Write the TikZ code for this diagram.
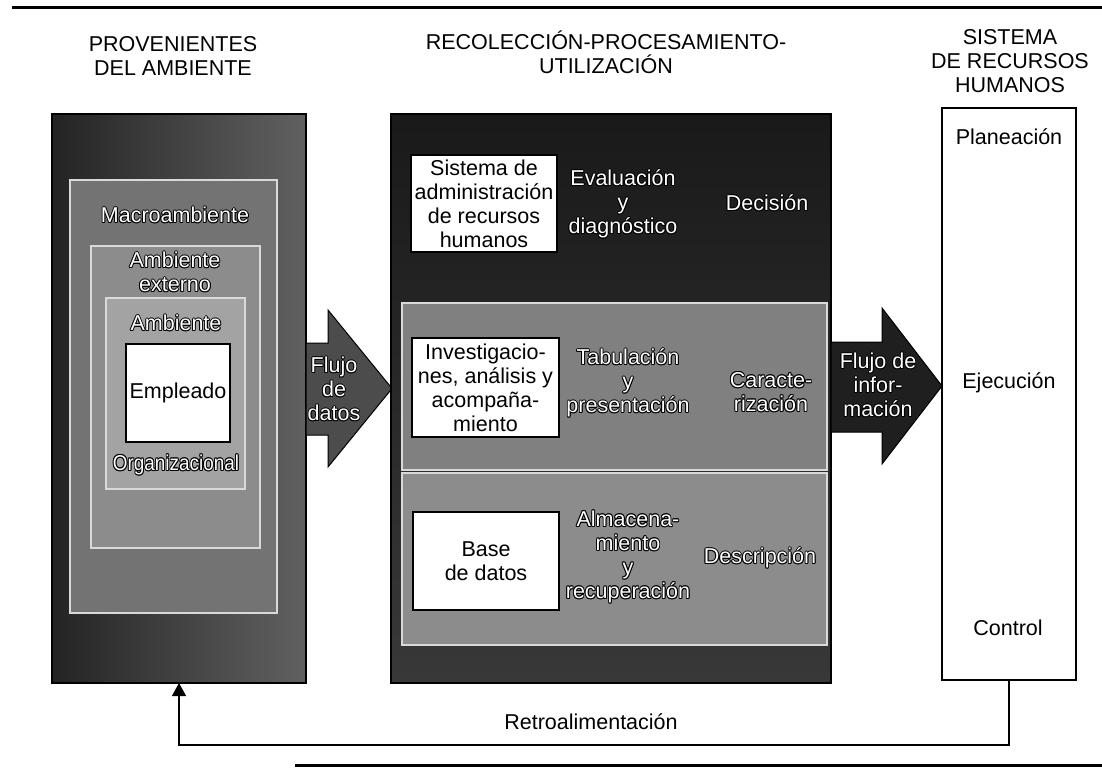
\documentclass[tikz,border=0pt]{standalone}
\usepackage{fontspec}
\usepackage{graphicx}
\setmainfont{Liberation Sans}
\usetikzlibrary{arrows.meta}
\tikzset{
  base/.style={inner sep=0pt, outer sep=0pt, font=\fontsize{21.5}{24}\selectfont},
  txt/.style={base, align=center, text=black},
  otxt/.style={base, align=center},
  wbox/.style={rectangle, base, align=center, fill=white, draw=black, line width=1.3pt, anchor=north west},
  panel/.style={rectangle, inner sep=0pt, outer sep=0pt, anchor=north west, draw=black!85, double=white!85!black, double distance=1.2pt, line width=0.7pt},
  darkbox/.style={rectangle, inner sep=0pt, outer sep=0pt, anchor=north west, draw=black, line width=1.3pt},
  flowarrow/.style={draw=black, line width=1pt},
  fb/.style={draw=black, line width=1.2pt, -{Triangle[width=14pt,length=13pt]}},
  rulerline/.style={draw=black, line width=3pt},
}
\newcommand\outlinedtext[3]{%
  \foreach \dx/\dy in {0.9/0,-0.9/0,0/0.9,0/-0.9,0.65/0.65,-0.65/0.65,0.65/-0.65,-0.65/-0.65}{%
    \node[otxt,text=black] at ([shift={(\dx pt,\dy pt)}]#2) {#3};}%
  \node[otxt,text=white] (#1) at (#2) {#3};}
\begin{document}
\begin{tikzpicture}[x=1pt,y=-1pt]
\useasboundingbox (0,0) rectangle (1102,776);
\fill[white] (0,0) rectangle (1102,776);
% rules
\draw[rulerline] (12,8) -- (1102,8);
\draw[rulerline] (295,765) -- (1102,765);
% titles
\node[txt] (t1) at (173,56) {PROVENIENTES\\DEL AMBIENTE};
\node[txt] (t2) at (606,52) {RECOLECCI\'ON-PROCESAMIENTO-\\UTILIZACI\'ON};
\node[txt] (t3) at (1010,61) {SISTEMA\\DE RECURSOS\\HUMANOS};
% left column
\node[darkbox, left color=black!86, right color=black!62, minimum width=254pt, minimum height=569pt] (lbox) at (52,114) {};
\node[panel, fill=black!55, minimum width=207pt, minimum height=433pt] (macro) at (70,180) {};
\node[panel, fill=black!45, minimum width=169pt, minimum height=302pt] (ext) at (91,246) {};
\node[panel, fill=black!36, minimum width=139pt, minimum height=191pt] (org) at (106,298) {};
\node[wbox, minimum width=104pt, minimum height=98pt] (empl) at (126,344) {Empleado};
\outlinedtext{macrot}{175,215}{Macroambiente}
\outlinedtext{extt}{175,272}{Ambiente\\externo}
\outlinedtext{orgt}{176,323}{Ambiente}
\outlinedtext{orgt2}{176,465}{\scalebox{0.88}[1]{Organizacional}}
% arrow 1
\path[flowarrow, fill=black!70] (306,343) -- (328,343) -- (328,310) -- (392,388.5) -- (328,467) -- (328,435) -- (306,435) -- cycle;
\outlinedtext{flujo1}{334,389}{Flujo\\de\\datos}
% middle column
\node[darkbox, top color=black!90, bottom color=black!78, minimum width=440pt, minimum height=569pt] (mbox) at (391,114) {};
\node[panel, fill=black!50, minimum width=425pt, minimum height=167pt] (mpanel) at (402,303) {};
\node[panel, fill=black!45, minimum width=425pt, minimum height=172pt] (bpanel) at (402,473) {};
\node[wbox, minimum width=146pt, minimum height=97pt] (sist) at (411,155) {Sistema de\\administraci\'on\\de recursos\\humanos};
\node[wbox, minimum width=147pt, minimum height=99pt] (inv) at (412,338) {Investigacio-\\nes, an\'alisis y\\acompa\~na-\\miento};
\node[wbox, minimum width=146pt, minimum height=98pt] (bd) at (413,512) {Base\\de datos};
\outlinedtext{eval}{623,204}{Evaluaci\'on\\y\\diagn\'ostico}
\outlinedtext{dec}{767,203}{Decisi\'on}
\outlinedtext{tab}{628,383}{Tabulaci\'on\\y\\presentaci\'on}
\outlinedtext{car}{771,392}{Caracte-\\rizaci\'on}
\outlinedtext{alm}{628,557}{Almacena-\\miento\\y\\recuperaci\'on}
\outlinedtext{desc}{760,558}{Descripci\'on}
% arrow 2
\path[flowarrow, fill=black!88] (831,342) -- (882,342) -- (882,308) -- (942,386) -- (882,464) -- (882,432) -- (831,432) -- cycle;
\outlinedtext{flujo2}{878,385}{Flujo de\\infor-\\maci\'on}
% right column
\node[wbox, minimum width=134pt, minimum height=572pt] (rbox) at (942,108) {};
\node[txt] (plan) at (1009,137) {Planeaci\'on};
\node[txt] (ejec) at (1009,383) {Ejecuci\'on};
\node[txt] (ctrl) at (1008,628) {Control};
% feedback
\draw[fb] (rbox.south) -- ++(0,65) -| (lbox.south);
\node[txt] (retro) at (591,722) {Retroalimentaci\'on};
\end{tikzpicture}
\end{document}
